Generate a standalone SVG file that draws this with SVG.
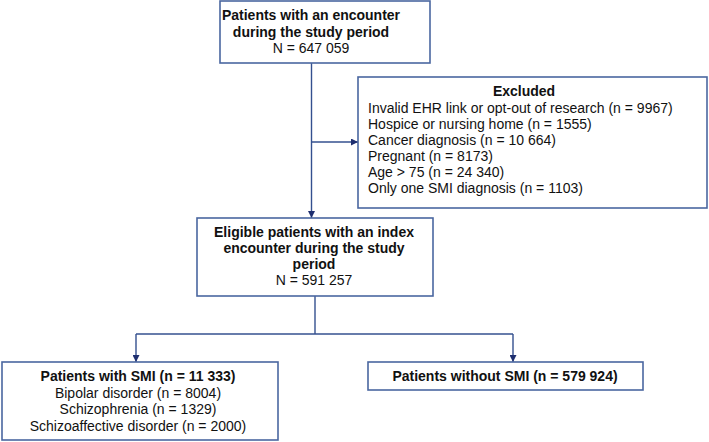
<svg xmlns="http://www.w3.org/2000/svg" width="709" height="442" viewBox="0 0 709 442">
<defs>
<style>
.box{fill:#fff;stroke:#4a67a0;stroke-width:1.6}
.ln{fill:none;stroke:#34508f;stroke-width:1.4}
text{font-family:"Liberation Sans",Arial,sans-serif;font-size:14px;fill:#111}
.b{font-weight:bold}
.c{text-anchor:middle}
</style>
<marker id="ah" viewBox="0 0 10 10" refX="10" refY="5" markerWidth="7" markerHeight="7" markerUnits="userSpaceOnUse" orient="auto">
<path d="M0,0 L10,5 L0,10 z" fill="#1f2f70"/>
</marker>
</defs>
<rect width="709" height="442" fill="#fff"/>
<g id="connectors">
<line class="ln" x1="311.5" y1="63" x2="311.5" y2="218" marker-end="url(#ah)"/>
<line class="ln" x1="311.5" y1="142" x2="358" y2="142" marker-end="url(#ah)"/>
<line class="ln" x1="315" y1="296" x2="315" y2="334"/>
<line class="ln" x1="136" y1="334" x2="513" y2="334"/>
<line class="ln" x1="136" y1="334" x2="136" y2="362" marker-end="url(#ah)"/>
<line class="ln" x1="513" y1="334" x2="513" y2="362" marker-end="url(#ah)"/>
</g>
<g id="n1">
<rect class="box" x="220" y="1" width="210" height="62"/>
<text class="b c" x="311" y="20">Patients with an encounter</text>
<text class="b c" x="311" y="37">during the study period</text>
<text class="c" x="311" y="53">N = 647 059</text>
</g>
<g id="excluded">
<rect class="box" x="358" y="77" width="349" height="131"/>
<text class="b c" x="524" y="96">Excluded</text>
<text x="368" y="113">Invalid EHR link or opt-out of research (n = 9967)</text>
<text x="368" y="129">Hospice or nursing home (n = 1555)</text>
<text x="368" y="145">Cancer diagnosis (n = 10 664)</text>
<text x="368" y="161">Pregnant (n = 8173)</text>
<text x="368" y="177">Age &gt; 75 (n = 24 340)</text>
<text x="368" y="193">Only one SMI diagnosis (n = 1103)</text>
</g>
<g id="eligible">
<rect class="box" x="197" y="218" width="236" height="78"/>
<text class="b c" x="314" y="237">Eligible patients with an index</text>
<text class="b c" x="314" y="253">encounter during the study</text>
<text class="b c" x="314" y="269">period</text>
<text class="c" x="314" y="285">N = 591 257</text>
</g>
<g id="smi">
<rect class="box" x="2" y="362" width="276" height="78"/>
<text class="b c" x="138" y="381">Patients with SMI (n = 11 333)</text>
<text class="c" x="138" y="398">Bipolar disorder (n = 8004)</text>
<text class="c" x="138" y="414">Schizophrenia (n = 1329)</text>
<text class="c" x="138" y="431">Schizoaffective disorder (n = 2000)</text>
</g>
<g id="nosmi">
<rect class="box" x="368" y="362" width="275" height="28"/>
<text class="b c" x="505" y="381">Patients without SMI (n = 579 924)</text>
</g>
</svg>
